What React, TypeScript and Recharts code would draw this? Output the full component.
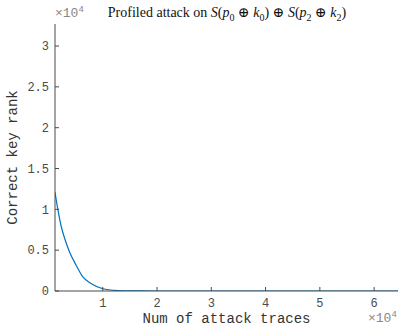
import { Label, Line, LineChart, XAxis, YAxis } from "recharts";

const traces = [1200, 1750, 2350, 3000, 3900, 5100, 6300, 7900, 10000, 12000, 14000, 17000, 20000, 30000, 40000, 50000, 64400];
const keyRank = [12100, 9900, 7900, 6400, 4750, 3150, 1750, 880, 270, 80, 25, 5, 2, 0, 0, 0, 0];
const xTicks = [10000, 20000, 30000, 40000, 50000, 60000];
const yTicks = [0, 5000, 10000, 15000, 20000, 25000, 30000];

const data = traces.map((t, i) => ({ t, rank: keyRank[i] }));

const axisColor = "#4a4a4a";
const mono = "'Liberation Mono', 'DejaVu Sans Mono', monospace";
const fmt = (v: number) => String(v / 10000);

const App = () => {
  return (
    <div style={{ position: "absolute", left: 0, top: 0, width: 400, height: 327, background: "#fff" }}>
      <LineChart width={400} height={327} data={data} margin={{ top: 24, right: 2, bottom: 0, left: 0 }}>
        <XAxis
          dataKey="t"
          type="number"
          domain={[1200, 64400]}
          ticks={xTicks}
          tickFormatter={fmt}
          allowDataOverflow
          height={36}
          stroke={axisColor}
          tickSize={-4}
          tickMargin={11}
          tick={{ fill: axisColor, fontSize: 12, fontFamily: mono }}
        >
          <Label
            value="Num of attack traces"
            position="insideBottom"
            offset={4}
            style={{ fill: "#333", fontSize: 14, fontFamily: mono }}
          />
        </XAxis>
        <YAxis
          type="number"
          domain={[0, 32700]}
          ticks={yTicks}
          tickFormatter={fmt}
          allowDataOverflow
          width={55}
          stroke={axisColor}
          tickSize={-4}
          tickMargin={10}
          tick={{ fill: axisColor, fontSize: 12, fontFamily: mono }}
        >
          <Label
            value="Correct key rank"
            angle={-90}
            position="insideLeft"
            offset={12}
            style={{ fill: "#333", fontSize: 14, fontFamily: mono, textAnchor: "middle" }}
          />
        </YAxis>
        <Line
          type="monotone"
          dataKey="rank"
          stroke="#0072BD"
          strokeWidth={1.2}
          dot={false}
          isAnimationActive={false}
        />
      </LineChart>
      <div
        style={{
          position: "absolute",
          left: 0,
          top: 4,
          width: 454,
          textAlign: "center",
          fontFamily: "'Liberation Serif', 'DejaVu Serif', serif",
          fontSize: 14,
          color: "#111",
          whiteSpace: "nowrap",
        }}
      >
        Profiled attack on <i>S</i>(<i>p</i><sub style={{ fontSize: 10 }}>0</sub> ⊕ <i>k</i>
        <sub style={{ fontSize: 10 }}>0</sub>) ⊕ <i>S</i>(<i>p</i><sub style={{ fontSize: 10 }}>2</sub> ⊕ <i>k</i>
        <sub style={{ fontSize: 10 }}>2</sub>)
      </div>
      <div style={{ position: "absolute", left: 55, top: 5, fontFamily: mono, fontSize: 13, color: "#888", whiteSpace: "nowrap" }}>
        ×10<sup style={{ fontSize: 9 }}>4</sup>
      </div>
      <div style={{ position: "absolute", left: 368, top: 310, fontFamily: mono, fontSize: 13, color: "#888", whiteSpace: "nowrap" }}>
        ×10<sup style={{ fontSize: 9 }}>4</sup>
      </div>
    </div>
  );
};

export default App;
